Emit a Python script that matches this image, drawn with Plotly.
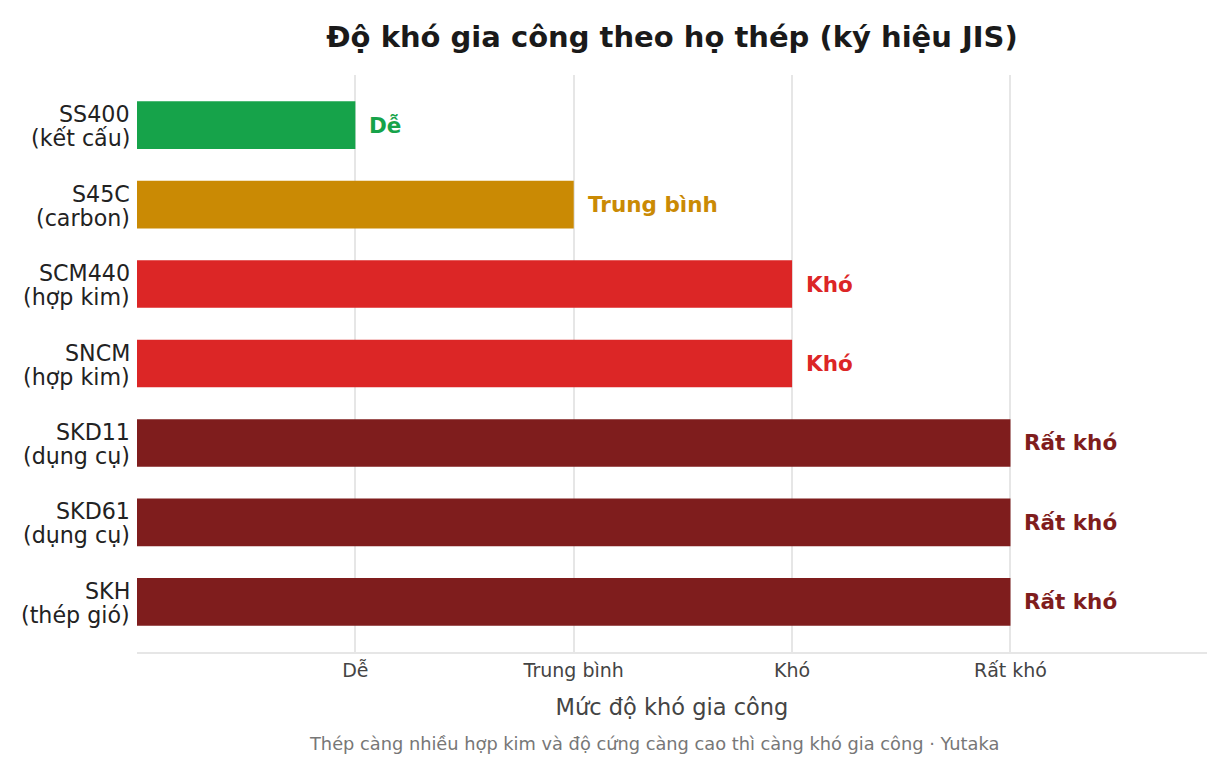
import plotly.graph_objects as go

steel_codes = ["SS400", "S45C", "SCM440", "SNCM", "SKD11", "SKD61", "SKH"]
steel_groups = ["(kết cấu)", "(carbon)", "(hợp kim)", "(hợp kim)", "(dụng cụ)", "(dụng cụ)", "(thép gió)"]
difficulty = [1, 2, 3, 3, 4, 4, 4]
labels = ["Dễ", "Trung bình", "Khó", "Khó", "Rất khó", "Rất khó", "Rất khó"]
colors = ["#16a34a", "#ca8a04", "#dc2626", "#dc2626", "#7f1d1d", "#7f1d1d", "#7f1d1d"]
tick_vals = [1, 2, 3, 4]
tick_text = ["Dễ", "Trung bình", "Khó", "Rất khó"]

fig = go.Figure()
fig.add_trace(go.Bar(
    y=steel_codes, x=difficulty, orientation="h",
    marker=dict(color=colors, line=dict(width=0)),
    width=0.6, hoverinfo="skip",
))

for s, v, t, c in zip(steel_codes, difficulty, labels, colors):
    fig.add_annotation(x=v, y=s, text=f"<b>{t}</b>", showarrow=False,
                       xanchor="left", xshift=12,
                       font=dict(family="DejaVu Sans", size=21.5, color=c))

for s, g in zip(steel_codes, steel_groups):
    fig.add_annotation(x=0, xref="paper", y=s, text=s, showarrow=False,
                       xanchor="right", xshift=-5, yanchor="middle", yshift=11,
                       font=dict(family="DejaVu Sans", size=22.2, color="#222"))
    fig.add_annotation(x=0, xref="paper", y=s, text=g, showarrow=False,
                       xanchor="right", xshift=-5, yanchor="middle", yshift=-13,
                       font=dict(family="DejaVu Sans", size=22.2, color="#222"))

fig.update_layout(
    width=1229, height=776,
    margin=dict(l=137, r=22, t=75, b=124),
    paper_bgcolor="white", plot_bgcolor="white",
    showlegend=False,
    title=dict(text="<b>Độ khó gia công theo họ thép (ký hiệu JIS)</b>",
               x=0.5468, xanchor="center", y=0.952, yanchor="middle",
               font=dict(family="DejaVu Sans", size=29, color="#1a1a1a")),
    xaxis=dict(range=[0, 4.9], tickvals=tick_vals, ticktext=tick_text,
               showgrid=True, gridcolor="#e6e6e6", gridwidth=1.5,
               zeroline=False, showline=True, linecolor="#e6e6e6", linewidth=2,
               ticks="", tickfont=dict(family="DejaVu Sans", size=19, color="#444"),
               title=dict(text="Mức độ khó gia công", standoff=19,
                          font=dict(family="DejaVu Sans", size=22.5, color="#444"))),
    yaxis=dict(autorange=False, range=[6.63, -0.63], categoryorder="array", categoryarray=steel_codes,
               showgrid=False, zeroline=False, showline=False, ticks="",
               showticklabels=False),
)

fig.add_annotation(text="Thép càng nhiều hợp kim và độ cứng càng cao thì càng khó gia công · Yutaka",
                   xref="paper", yref="paper", x=0.4836, y=-0.159, xanchor="center", yanchor="middle",
                   showarrow=False, font=dict(family="DejaVu Sans", size=17.8, color="#777"))

fig.write_html("out.html")
